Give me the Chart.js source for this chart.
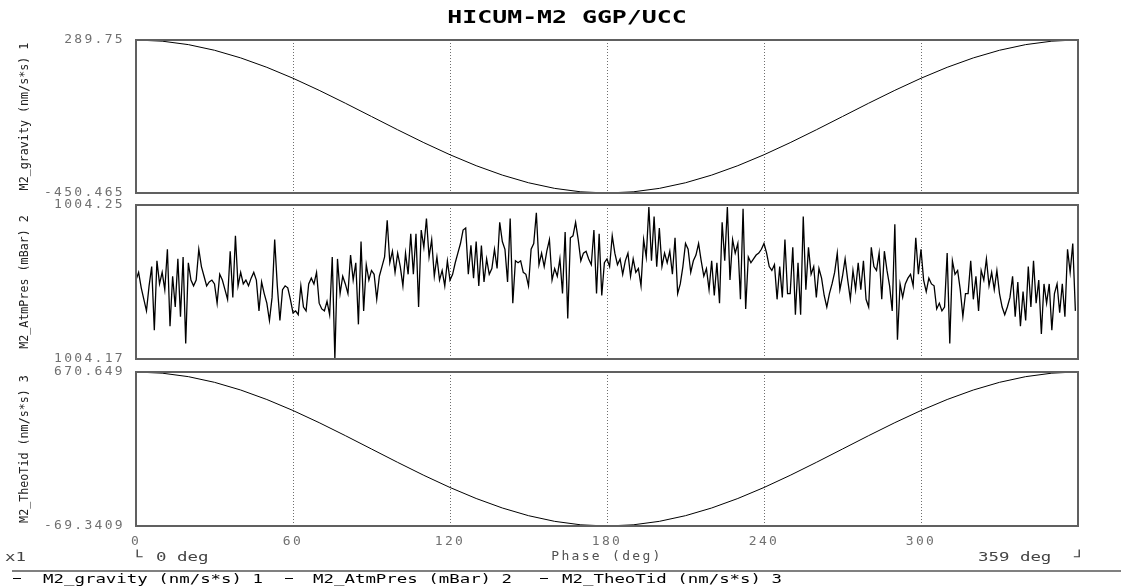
<!DOCTYPE html>
<html>
<head>
<meta charset="utf-8">
<script src="https://cdn.jsdelivr.net/npm/chart.js@4.4.1/dist/chart.umd.min.js"></script>
<style>
body { margin: 0; background: #fff; width: 1121px; height: 588px; overflow: hidden; position: relative; }
canvas { position: absolute; left: 0; top: 0; }
.w { position: absolute; white-space: pre; font: 12px/12px 'DejaVu Sans Mono', monospace; color: #000; transform: scaleX(1.45); transform-origin: 0 0; }
.g { color: #444; }
.dash { position: absolute; height: 1px; width: 8px; background: #000; top: 578px; }
#ttl { position: absolute; left: 567px; top: 8px; white-space: pre; font: bold 18px/18px 'DejaVu Sans Mono', monospace; transform: translateX(-50%) scaleX(1.38); }
#sep { position: absolute; left: 12px; top: 570px; width: 1109px; height: 2px; background: #808080; }
</style>
</head>
<body>
<canvas id="c0" width="1121" height="588"></canvas>
<canvas id="c1" width="1121" height="588"></canvas>
<canvas id="c2" width="1121" height="588"></canvas>

<div id="ttl">HICUM-M2 GGP/UCC</div>
<div class="w g" style="left:5px;top:551px">x1</div>
<div class="w g" style="left:132px;top:551px">└</div>
<div class="w g" style="left:156px;top:551px">0 deg</div>
<div class="w g" style="left:978px;top:551px">359 deg</div>
<div class="w g" style="left:1074px;top:551px">┘</div>
<div id="sep"></div>
<div class="dash" style="left:13px"></div>
<div class="w" style="left:43px;top:573px">M2_gravity (nm/s*s) 1</div>
<div class="dash" style="left:285px"></div>
<div class="w" style="left:313px;top:573px">M2_AtmPres (mBar) 2</div>
<div class="dash" style="left:540px"></div>
<div class="w" style="left:562px;top:573px">M2_TheoTid (nm/s*s) 3</div>

<script>
// x axis
const xTicks = [0, 60, 120, 180, 240, 300];
const xTickLabels = ['0', '60', '120', '180', '240', '300'];

// smooth series, read every 10 deg
const phaseCoarse = [0, 10, 20, 30, 40, 50, 60, 70, 80, 90, 100, 110, 120, 130, 140, 150, 160, 170, 180,
  190, 200, 210, 220, 230, 240, 250, 260, 270, 280, 290, 300, 310, 320, 330, 340, 350, 359];

const gravity = [289.75, 284.13, 267.43, 240.16, 203.16, 157.54, 104.70, 46.23, -16.09, -80.36,
  -144.63, -206.94, -265.41, -318.26, -363.87, -400.88, -428.14, -444.84, -450.465,
  -444.84, -428.14, -400.88, -363.87, -318.26, -265.41, -206.94, -144.63, -80.36,
  -16.09, 46.23, 104.70, 157.54, 203.16, 240.16, 267.43, 284.13, 289.69];

const theoTid = [670.649, 665.03, 648.34, 621.08, 584.09, 538.48, 485.65, 427.20, 364.90, 300.65,
  236.40, 174.11, 115.66, 62.83, 17.22, -19.77, -47.03, -63.72, -69.3409,
  -63.72, -47.03, -19.77, 17.22, 62.83, 115.66, 174.11, 236.40, 300.65,
  364.90, 427.20, 485.65, 538.48, 584.09, 621.08, 648.34, 665.03, 670.59];

// pressure, one value per degree
const atmPres = [
  1004.211, 1004.215, 1004.207, 1004.201, 1004.195, 1004.208, 1004.218, 1004.185, 1004.221, 1004.209,
  1004.215, 1004.206, 1004.227, 1004.187, 1004.213, 1004.197, 1004.222, 1004.192, 1004.223, 1004.178,
  1004.220, 1004.211, 1004.208, 1004.211, 1004.227, 1004.218, 1004.213, 1004.208, 1004.210, 1004.211,
  1004.209, 1004.199, 1004.214, 1004.211, 1004.206, 1004.201, 1004.226, 1004.202, 1004.234, 1004.208,
  1004.215, 1004.209, 1004.211, 1004.208, 1004.212, 1004.215, 1004.211, 1004.195, 1004.210, 1004.204,
  1004.199, 1004.190, 1004.202, 1004.232, 1004.208, 1004.190, 1004.206, 1004.208, 1004.207, 1004.201,
  1004.194, 1004.195, 1004.193, 1004.208, 1004.197, 1004.195, 1004.209, 1004.212, 1004.209, 1004.215,
  1004.199, 1004.196, 1004.195, 1004.200, 1004.193, 1004.223, 1004.170, 1004.222, 1004.204, 1004.213,
  1004.209, 1004.204, 1004.224, 1004.211, 1004.220, 1004.188, 1004.231, 1004.195, 1004.219, 1004.211,
  1004.216, 1004.214, 1004.201, 1004.213, 1004.218, 1004.223, 1004.242, 1004.220, 1004.226, 1004.215,
  1004.225, 1004.218, 1004.208, 1004.225, 1004.214, 1004.235, 1004.214, 1004.235, 1004.197, 1004.237,
  1004.228, 1004.243, 1004.223, 1004.232, 1004.213, 1004.223, 1004.211, 1004.216, 1004.208, 1004.221,
  1004.211, 1004.214, 1004.220, 1004.225, 1004.230, 1004.237, 1004.238, 1004.214, 1004.229, 1004.212,
  1004.231, 1004.208, 1004.229, 1004.210, 1004.222, 1004.214, 1004.217, 1004.227, 1004.217, 1004.241,
  1004.231, 1004.227, 1004.210, 1004.243, 1004.199, 1004.221, 1004.220, 1004.221, 1004.215, 1004.214,
  1004.208, 1004.227, 1004.230, 1004.246, 1004.219, 1004.225, 1004.218, 1004.226, 1004.232, 1004.211,
  1004.217, 1004.213, 1004.222, 1004.204, 1004.236, 1004.191, 1004.233, 1004.234, 1004.241, 1004.232,
  1004.221, 1004.225, 1004.226, 1004.222, 1004.219, 1004.237, 1004.204, 1004.235, 1004.203, 1004.220,
  1004.222, 1004.218, 1004.234, 1004.225, 1004.219, 1004.222, 1004.214, 1004.221, 1004.225, 1004.213,
  1004.222, 1004.215, 1004.217, 1004.208, 1004.232, 1004.223, 1004.249, 1004.221, 1004.244, 1004.218,
  1004.238, 1004.218, 1004.225, 1004.220, 1004.226, 1004.214, 1004.233, 1004.204, 1004.209, 1004.218,
  1004.230, 1004.227, 1004.215, 1004.221, 1004.224, 1004.230, 1004.221, 1004.213, 1004.217, 1004.206,
  1004.221, 1004.203, 1004.220, 1004.199, 1004.241, 1004.221, 1004.249, 1004.211, 1004.232, 1004.225,
  1004.230, 1004.201, 1004.248, 1004.196, 1004.223, 1004.220, 1004.222, 1004.224, 1004.225, 1004.227,
  1004.230, 1004.225, 1004.218, 1004.216, 1004.219, 1004.201, 1004.218, 1004.202, 1004.232, 1004.204,
  1004.204, 1004.228, 1004.193, 1004.220, 1004.193, 1004.244, 1004.206, 1004.228, 1004.214, 1004.218,
  1004.202, 1004.217, 1004.212, 1004.203, 1004.197, 1004.204, 1004.209, 1004.215, 1004.225, 1004.206,
  1004.213, 1004.222, 1004.211, 1004.201, 1004.216, 1004.206, 1004.220, 1004.206, 1004.221, 1004.201,
  1004.197, 1004.228, 1004.218, 1004.216, 1004.225, 1004.201, 1004.226, 1004.216, 1004.208, 1004.195,
  1004.240, 1004.180, 1004.209, 1004.202, 1004.209, 1004.212, 1004.214, 1004.208, 1004.233, 1004.214,
  1004.227, 1004.211, 1004.205, 1004.212, 1004.209, 1004.208, 1004.196, 1004.199, 1004.195, 1004.197,
  1004.225, 1004.178, 1004.221, 1004.214, 1004.216, 1004.206, 1004.192, 1004.204, 1004.204, 1004.221,
  1004.201, 1004.213, 1004.195, 1004.216, 1004.211, 1004.222, 1004.208, 1004.215, 1004.206, 1004.216,
  1004.204, 1004.197, 1004.193, 1004.197, 1004.202, 1004.213, 1004.192, 1004.210, 1004.187, 1004.205,
  1004.190, 1004.218, 1004.197, 1004.221, 1004.199, 1004.211, 1004.183, 1004.209, 1004.199, 1004.209,
  1004.185, 1004.204, 1004.209, 1004.194, 1004.209, 1004.192, 1004.227, 1004.215, 1004.230, 1004.195
];
const phaseFine = atmPres.map((v, i) => i);

const yTitles = ['M2_gravity (nm/s*s) 1', 'M2_AtmPres (mBar) 2', 'M2_TheoTid (nm/s*s) 3'];
const yMin = [-450.465, 1004.17, -69.3409];
const yMax = [289.75, 1004.25, 670.649];
const yTickLabels = [['-450.465', '289.75'], ['1004.17', '1004.25'], ['-69.3409', '670.649']];

const panelPad = [{ top: 40, bottom: 395 }, { top: 205, bottom: 229 }, { top: 372, bottom: 20 }];
const tickFont = { family: "'DejaVu Sans Mono'", size: 13 };

const wideText = {
  id: 'wideText',
  beforeDraw(c) { c.ctx.letterSpacing = '2.3px'; }
};

// panel box + rotated y title, drawn last
const panelDeco = {
  id: 'panelDeco',
  afterDraw(c, args, opts) {
    const a = c.chartArea, ctx = c.ctx;
    ctx.save();
    ctx.letterSpacing = '0px';
    ctx.setLineDash([]);
    ctx.strokeStyle = '#606060';
    ctx.lineWidth = 2;
    ctx.strokeRect(a.left, a.top, a.right - a.left, a.bottom - a.top);
    ctx.font = "11.7px 'DejaVu Sans Mono'";
    ctx.fillStyle = '#222';
    ctx.textAlign = 'center';
    ctx.textBaseline = 'middle';
    ctx.translate(25, (a.top + a.bottom) / 2);
    ctx.rotate(-Math.PI / 2);
    ctx.fillText(opts.text, 0, 0);
    ctx.restore();
  }
};

function makeChart(k, xs, ys) {
  const bottom = k === 2;
  return new Chart(document.getElementById('c' + k), {
    type: 'line',
    data: {
      datasets: [{
        data: xs.map((x, i) => ({ x: x, y: ys[i] })),
        borderColor: '#000',
        borderWidth: k === 1 ? 1.3 : 1,
        pointRadius: 0,
        tension: 0,
        fill: false
      }]
    },
    options: {
      responsive: false,
      animation: false,
      events: [],
      layout: { padding: { left: 0, right: 43, top: panelPad[k].top, bottom: panelPad[k].bottom } },
      plugins: {
        legend: { display: false },
        tooltip: { enabled: false },
        panelDeco: { text: yTitles[k] }
      },
      scales: {
        x: {
          type: 'linear', position: 'bottom', min: 0, max: 360,
          afterBuildTicks: s => { s.ticks = xTicks.map(v => ({ value: v })); },
          afterFit: s => { s.height = bottom ? 42 : 0; },
          grid: { display: true, drawOnChartArea: true, drawTicks: false, lineWidth: 1, color: '#6e6e6e' },
          border: { display: false, dash: [1, 2] },
          ticks: {
            display: bottom, font: tickFont, color: '#707070', padding: 8,
            maxRotation: 0, autoSkip: false,
            callback: (v, i) => xTickLabels[i]
          },
          title: {
            display: bottom, text: 'Phase (deg)', font: tickFont, color: '#505050',
            padding: { top: 0, bottom: 4 }
          }
        },
        y: {
          min: yMin[k], max: yMax[k],
          afterBuildTicks: s => { s.ticks = [{ value: yMin[k] }, { value: yMax[k] }]; },
          afterFit: s => { s.width = 136; },
          grid: { display: false, drawTicks: false },
          border: { display: false },
          ticks: {
            font: tickFont, color: '#707070', padding: 11,
            callback: (v, i) => yTickLabels[k][i]
          }
        }
      }
    },
    plugins: [wideText, panelDeco]
  });
}

makeChart(0, phaseCoarse, gravity);
makeChart(1, phaseFine, atmPres);
makeChart(2, phaseCoarse, theoTid);
</script>
</body>
</html>
